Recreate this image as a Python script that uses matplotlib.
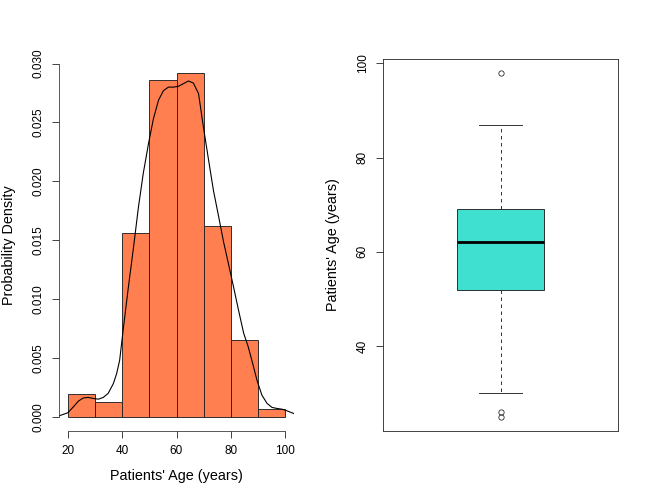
import matplotlib
matplotlib.use("Agg")
import matplotlib.pyplot as plt
from matplotlib.ticker import FormatStrFormatter

# ---------------- data ----------------
bin_edges = [20, 30, 40, 50, 60, 70, 80, 90, 100]
bin_density = [0.00195, 0.0013, 0.01558, 0.02857, 0.02922, 0.01623, 0.0065, 0.00065]

kde_x = [16.5, 20.0, 22.1, 23.9, 25.7, 27.6, 29.4, 31.3, 33.1, 34.9, 36.8, 38.0,
         39.1, 40.5, 42.3, 44.2, 46.0, 47.8, 49.7, 51.5, 53.4, 55.2, 57.0, 58.9,
         60.7, 62.6, 64.4, 66.2, 68.1, 69.9, 71.8, 73.6, 75.5, 77.3, 79.1, 81.0,
         82.8, 84.7, 86.3, 87.7, 89.6, 91.4, 93.3, 95.1, 97.0, 98.8, 100.6, 103.7]
kde_y = [0.00006, 0.00034, 0.00085, 0.00133, 0.0016, 0.00165, 0.00156, 0.0015,
         0.00165, 0.0020, 0.00283, 0.00368, 0.0048, 0.0076, 0.0110, 0.0144,
         0.0178, 0.0207, 0.0232, 0.0253, 0.0269, 0.0277, 0.0280, 0.0280,
         0.02807, 0.0283, 0.02852, 0.02835, 0.02745, 0.0246, 0.0218, 0.0192,
         0.0170, 0.01486, 0.0130, 0.0110, 0.00906, 0.0071, 0.0060, 0.0048,
         0.0031, 0.00184, 0.00114, 0.0008, 0.00071, 0.00065, 0.00051, 0.00023]

box_q1 = 52
box_median = 62
box_q3 = 69
whisker_low = 30
whisker_high = 87
outliers = [98, 26.1, 25]

hist_xticks = [20, 40, 60, 80, 100]
hist_yticks = [0.000, 0.005, 0.010, 0.015, 0.020, 0.025, 0.030]
box_yticks = [40, 60, 80, 100]

xlabel = "Patients' Age (years)"
ylabel_hist = "Probability Density"
ylabel_box = "Patients' Age (years)"

# ---------------- style ----------------
plt.rcParams['font.family'] = ['Liberation Sans', 'DejaVu Sans']
plt.rcParams['font.size'] = 12
plt.rcParams['lines.scale_dashes'] = False
LABEL_SIZE = 14.4
TICK_SIZE = 11.8

fig = plt.figure(figsize=(9, 7), dpi=72)
W, H = 648, 504
bottom = 1 - 430.6 / H
height = 371.6 / H
ax1 = fig.add_axes([59 / W, bottom, 235 / W, height])
ax2 = fig.add_axes([383 / W, bottom, 235 / W, height])

# ---------------- histogram + density ----------------
lefts = bin_edges[:-1]
widths = [b - a for a, b in zip(bin_edges[:-1], bin_edges[1:])]
ax1.bar(lefts, bin_density, width=widths, align='edge', color='#FF7F50',
        edgecolor='#222222', linewidth=0.9)
ax1.plot(kde_x, kde_y, color='black', linewidth=1.1)

xr = bin_edges[-1] - bin_edges[0]
ax1.set_xlim(bin_edges[0] - 0.04 * xr, bin_edges[-1] + 0.04 * xr)
ymax = max(bin_density)
ax1.set_ylim(-0.04 * ymax, ymax * 1.04)
for s in ['top', 'right']:
    ax1.spines[s].set_visible(False)
ax1.spines['left'].set_bounds(hist_yticks[0], hist_yticks[-1])
ax1.spines['bottom'].set_bounds(hist_xticks[0], hist_xticks[-1])
for s in ['left', 'bottom']:
    ax1.spines[s].set_color('#333333')
ax1.set_xticks(hist_xticks)
ax1.set_yticks(hist_yticks)
ax1.yaxis.set_major_formatter(FormatStrFormatter('%.3f'))
ax1.tick_params(direction='out', length=7.2, width=0.9, pad=7,
                labelsize=TICK_SIZE, color='#333333')
plt.setp(ax1.get_yticklabels(), rotation=90, va='center')
ax1.set_xlabel(xlabel, fontsize=LABEL_SIZE)
ax1.set_ylabel(ylabel_hist, fontsize=LABEL_SIZE)
ax1.xaxis.set_label_coords(0.5, -0.103)
ax1.yaxis.set_label_coords(-0.185, 0.5)

# ---------------- boxplot ----------------
stats = [{'med': box_median, 'q1': box_q1, 'q3': box_q3,
          'whislo': whisker_low, 'whishi': whisker_high, 'fliers': outliers}]
ax2.bxp(stats, positions=[1], widths=0.4, capwidths=0.2, patch_artist=True,
        boxprops=dict(facecolor='#40E0D0', edgecolor='#222222', linewidth=0.9),
        whiskerprops=dict(color='#222222', linewidth=0.9, linestyle=(0, (3.5, 3.5))),
        capprops=dict(color='#222222', linewidth=0.9),
        medianprops=dict(color='black', linewidth=2.8, solid_capstyle='butt'),
        flierprops=dict(marker='o', markerfacecolor='none', markeredgecolor='#222222',
                        markersize=5.3, markeredgewidth=0.8))
allv = [whisker_low, whisker_high] + outliers
lo, hi = min(allv), max(allv)
r = hi - lo
ax2.set_ylim(lo - 0.04 * r, hi + 0.04 * r)
ax2.set_xlim(0.5 - 0.04, 1.5 + 0.04)
ax2.set_xticks([])
ax2.set_yticks(box_yticks)
for s in ax2.spines.values():
    s.set_linewidth(0.9)
    s.set_color('#333333')
ax2.tick_params(axis='y', direction='out', length=7.2, width=0.9, pad=7,
                labelsize=TICK_SIZE, color='#333333')
plt.setp(ax2.get_yticklabels(), rotation=90, va='center')
ax2.set_ylabel(ylabel_box, fontsize=LABEL_SIZE)
ax2.yaxis.set_label_coords(-0.185, 0.5)

fig.savefig('out.png', dpi=72)
